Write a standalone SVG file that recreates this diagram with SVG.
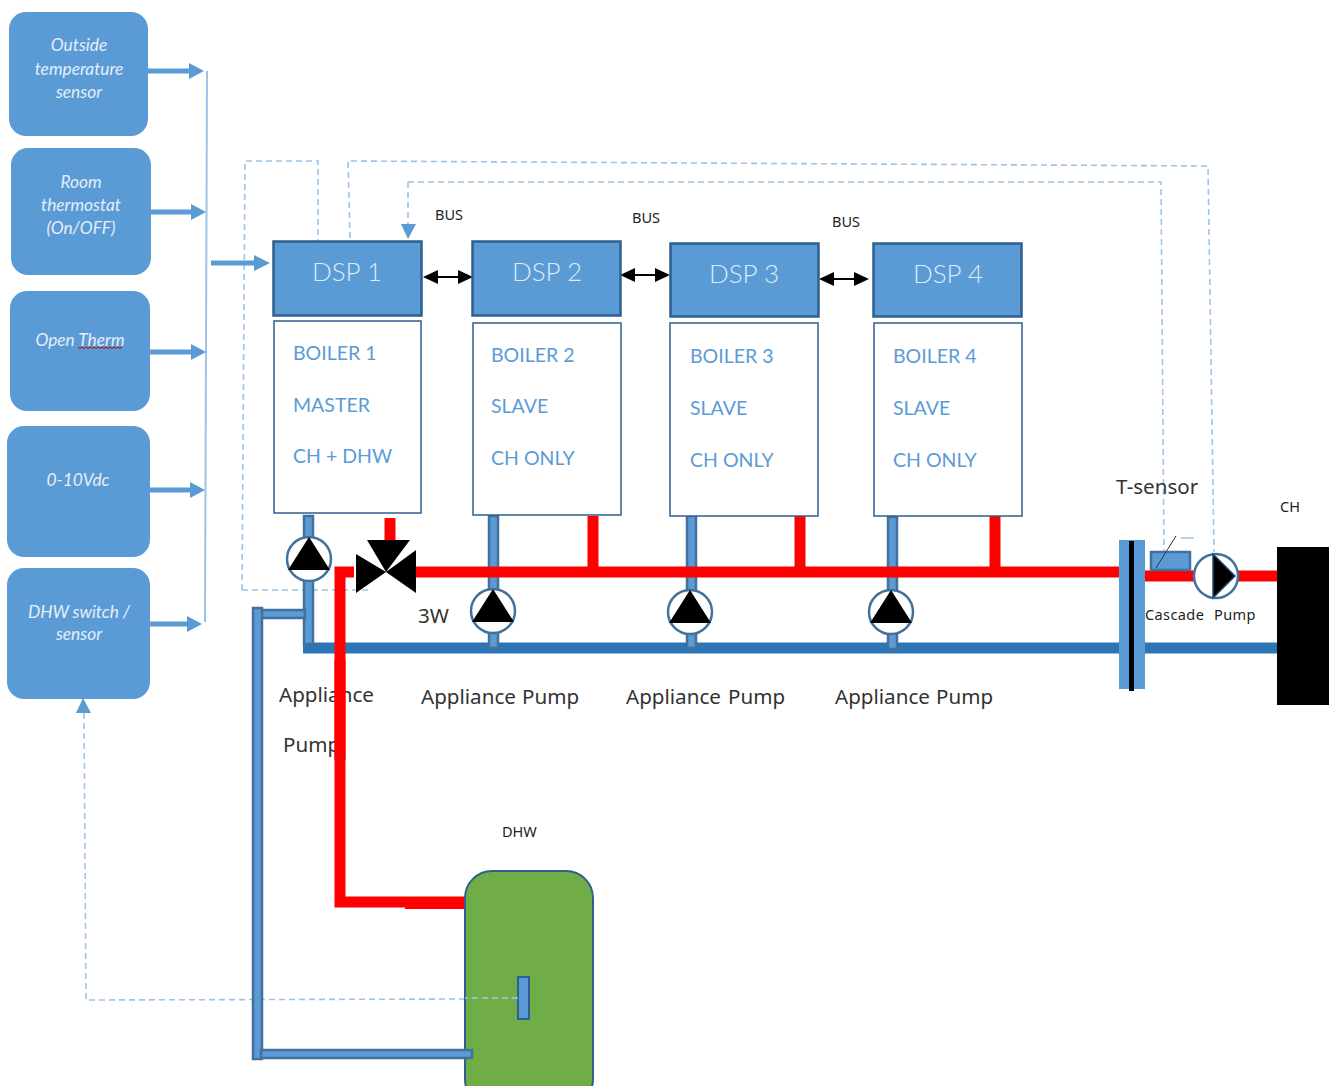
<svg xmlns="http://www.w3.org/2000/svg" width="1332" height="1086" viewBox="0 0 1332 1086">
<style>
text{font-family:"Lato","Liberation Sans",sans-serif}
.in{fill:#5b9bd5}
.it{font-style:italic;font-size:17.300px;fill:#e4eef8;text-anchor:middle}
.dsp{fill:#5b9bd5;stroke:#2f5f8e;stroke-width:2.500}
.dt{font-size:26px;fill:#deebf7;text-anchor:middle;font-weight:300}
.box{fill:#fff;stroke:#2f5f8e;stroke-width:1.500}
.bt{font-size:19.500px;fill:#5b9bd5}
.lb{font-family:"Noto Sans","Liberation Sans",sans-serif;fill:#333;font-size:20.600px}
.sm{font-family:"Noto Sans","Liberation Sans",sans-serif;fill:#222;font-size:14.500px}
.red{stroke:#f00;stroke-width:11;fill:none}
.ret{stroke:#2e75b6;stroke-width:11;fill:none}
.pipe{fill:#5b9bd5;stroke:#41719c;stroke-width:2.500}
.dash{fill:none;stroke:#9dc3e6;stroke-width:1.600;stroke-dasharray:6 4}
.arr{stroke:#5b9bd5;stroke-width:5;fill:none}
.pc{fill:#fff;stroke:#41719c;stroke-width:2.500}
</style>
<defs>
<g id="pump"><circle r="22" class="pc"/><path d="M-21 11 0-22 21 11Z" fill="#000"/></g>
<g id="bus"><path d="M-18 0H18" stroke="#000" stroke-width="2"/><path d="M-25 0-10-7V7ZM25 0 10-7V7Z" fill="#000"/></g>
</defs>

<g id="connectors">
<path class="dash" d="M242 590 245 161H318V241M242 590H370M350 238 348 161 1208 166 1214 552M408 182H1161L1164 552"/>
<path d="M408 182V226" class="dash"/><path d="M401 224H416L408 239Z" fill="#5b9bd5"/>
<path class="dash" d="M465 999 86 1000 84 712"/><path d="M76 713H91L83 698Z" fill="#5b9bd5"/>
<path d="M207 71 205 622" stroke="#9dc3e6" stroke-width="2" fill="none"/>
<g class="in">
<path class="arr" d="M148 71H192"/><path d="M189 63 204 71 189 79Z"/>
<path class="arr" d="M150 212H194"/><path d="M191 204 206 212 191 220Z"/>
<path class="arr" d="M149 352H193"/><path d="M191 344 206 352 191 360Z"/>
<path class="arr" d="M149 490H193"/><path d="M190 482 205 490 190 498Z"/>
<path class="arr" d="M149 624H190"/><path d="M187 616 202 624 187 632Z"/>
<path class="arr" d="M211 263H256"/><path d="M254 255 270 263 254 271Z"/>
</g>
<use href="#bus" x="448" y="277"/><use href="#bus" x="645" y="275"/><use href="#bus" x="844" y="279"/>
</g>

<g id="pipes">
<path class="ret" d="M303 648H1120M1145 648H1277"/>
<path class="pipe" d="M304 516H313V644H304Z"/>
<path class="pipe" d="M489 516H498V648H489Z"/>
<path class="pipe" d="M687 516H696V648H687Z"/>
<path class="pipe" d="M888 517H897V649H888Z"/>
<path class="red" d="M390 518V545M416 572H1120M593 516V572M800 516V572M995 516V572"/>
<path class="red" d="M354 572H340V902H464"/>
<path d="M405 903H464" stroke="#f00" stroke-width="12" fill="none"/>
<path class="red" d="M1145 576H1194M1238 576H1277"/>
<path class="pipe" d="M258 610H305V618H258Z"/>
<path class="pipe" d="M253 608H262V1059H253Z"/>
</g>

<g id="sensor-outside"><rect class="in" x="9" y="12" width="139" height="124" rx="17"/>
<text class="it" x="79" y="51">Outside</text><text class="it" x="79" y="75">temperature</text><text class="it" x="79" y="98">sensor</text></g>
<g id="sensor-room"><rect class="in" x="11" y="148" width="140" height="127" rx="17"/>
<text class="it" x="81" y="188">Room</text><text class="it" x="81" y="211">thermostat</text><text class="it" x="81" y="234">(On/OFF)</text></g>
<g id="sensor-opentherm"><rect class="in" x="10" y="291" width="140" height="120" rx="17"/>
<text class="it" x="80" y="346">Open Therm</text>
<path d="M78 347l2 1.500 2-1.500 2 1.500 2-1.500 2 1.500 2-1.500 2 1.500 2-1.500 2 1.500 2-1.500 2 1.500 2-1.500 2 1.500 2-1.500 2 1.500 2-1.500 2 1.500 2-1.500 2 1.500 2-1.500 2 1.500 2-1.500" fill="none" stroke="#c00000" stroke-width="1"/></g>
<g id="sensor-010"><rect class="in" x="7" y="426" width="143" height="131" rx="17"/>
<text class="it" x="78" y="486">0-10Vdc</text></g>
<g id="sensor-dhw"><rect class="in" x="7" y="568" width="143" height="131" rx="17"/>
<text class="it" x="79" y="618">DHW switch /</text><text class="it" x="79" y="640">sensor</text></g>

<g id="dsp1"><rect class="dsp" x="273.500" y="241.500" width="148" height="74"/><text class="dt" x="347" y="281">DSP 1</text></g>
<g id="dsp2"><rect class="dsp" x="472.500" y="241.500" width="148" height="74"/><text class="dt" x="547" y="281">DSP 2</text></g>
<g id="dsp3"><rect class="dsp" x="670.500" y="243.500" width="148" height="73"/><text class="dt" x="744" y="283">DSP 3</text></g>
<g id="dsp4"><rect class="dsp" x="873.500" y="243.500" width="148" height="73"/><text class="dt" x="948" y="283">DSP 4</text></g>

<g id="boiler1"><rect class="box" x="274" y="321" width="147" height="192"/>
<text class="bt" x="293" y="360">BOILER 1</text><text class="bt" x="293" y="412">MASTER</text><text class="bt" x="293" y="463">CH + DHW</text></g>
<g id="boiler2"><rect class="box" x="473" y="323" width="148" height="192"/>
<text class="bt" x="491" y="362">BOILER 2</text><text class="bt" x="491" y="413">SLAVE</text><text class="bt" x="491" y="465">CH ONLY</text></g>
<g id="boiler3"><rect class="box" x="670" y="323" width="148" height="193"/>
<text class="bt" x="690" y="363">BOILER 3</text><text class="bt" x="690" y="415">SLAVE</text><text class="bt" x="690" y="467">CH ONLY</text></g>
<g id="boiler4"><rect class="box" x="874" y="323" width="148" height="193"/>
<text class="bt" x="893" y="363">BOILER 4</text><text class="bt" x="893" y="415">SLAVE</text><text class="bt" x="893" y="467">CH ONLY</text></g>

<g id="pump1"><use href="#pump" x="309" y="559"/></g>
<g id="pump2"><use href="#pump" x="493" y="611"/></g>
<g id="pump3"><use href="#pump" x="690" y="612"/></g>
<g id="pump4"><use href="#pump" x="891" y="612"/></g>
<g id="valve-3w"><path d="M367 540H410L386 572ZM356 554 386 572 356 593ZM416 550V593L386 572Z" fill="#000"/>
<text class="lb" x="418" y="623">3W</text></g>

<g id="exchanger"><rect x="1119" y="540" width="26" height="149" fill="#5b9bd5"/><rect x="1129" y="541" width="5" height="150" fill="#000"/></g>
<g id="t-sensor"><rect x="1151" y="552" width="39" height="18" fill="#5b9bd5" stroke="#41719c" stroke-width="2.500"/>
<path d="M1156 568 1176 536" stroke="#333" stroke-width="1" fill="none"/><path d="M1181 538H1194" stroke="#9dc3e6" stroke-width="1.500" fill="none"/>
<text class="lb" x="1116" y="494">T-sensor</text></g>
<g id="cascade-pump"><circle cx="1216" cy="576" r="22" class="pc"/><path d="M1213 554 1235 576 1213 598Z" fill="#000" stroke="#1f4e79" stroke-width="1.500"/>
<text class="sm" x="1145" y="620" letter-spacing=".4">Cascade</text><text class="sm" x="1214" y="620" letter-spacing=".4">Pump</text></g>
<g id="ch"><rect x="1277" y="547" width="52" height="158" fill="#000"/><text class="sm" x="1280" y="512">CH</text></g>

<g id="dhw"><rect x="465" y="871" width="128" height="235" rx="27" fill="#70ad47" stroke="#2f5f8e" stroke-width="2"/>
<rect x="518" y="977" width="11" height="42" fill="#5b9bd5" stroke="#2f5f8e" stroke-width="2"/>
<text class="sm" x="502" y="837">DHW</text></g>

<g id="connectors-over">
<path class="dash" d="M518 998H465"/>
<path class="pipe" d="M261 1050H472V1058H261Z"/>
</g>

<g id="labels">
<text class="sm" x="435" y="220">BUS</text><text class="sm" x="632" y="223">BUS</text><text class="sm" x="832" y="227">BUS</text>
<text class="lb" x="279" y="702">Appliance</text><text class="lb" x="283" y="752">Pump</text>
<path d="M340 660V760" class="red"/>
<text class="lb" x="421" y="704">Appliance</text><text class="lb" x="522" y="704">Pump</text>
<text class="lb" x="626" y="704">Appliance</text><text class="lb" x="728" y="704">Pump</text>
<text class="lb" x="835" y="704">Appliance</text><text class="lb" x="936" y="704">Pump</text>
</g>
</svg>
